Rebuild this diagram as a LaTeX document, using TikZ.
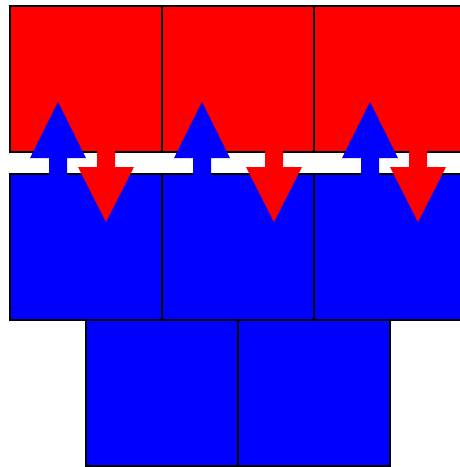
\documentclass[tikz,border=0pt]{standalone}
\begin{document}
\begin{tikzpicture}[x=1pt,y=-1pt,
  sq/.style={draw=black,line width=2pt,minimum width=152pt,minimum height=146pt,inner sep=0pt,outer sep=0pt,anchor=north west},
  redsq/.style={sq,fill=red},
  bluesq/.style={sq,fill=blue},
  uparrow/.style={fill=blue,draw=none},
  downarrow/.style={fill=red,draw=none}]
\useasboundingbox (0,0) rectangle (460,467);
\clip (0,0) rectangle (460,467);
% top red row
\node[redsq] (r1) at (10,6) {};
\node[redsq] (r2) at (162,6) {};
\node[redsq] (r3) at (314,6) {};
% middle blue row
\node[bluesq] (b1) at (10,174) {};
\node[bluesq] (b2) at (162,174) {};
\node[bluesq] (b3) at (314,174) {};
% bottom blue row
\node[bluesq] (c1) at (86,320) {};
\node[bluesq] (c2) at (238,320) {};
% arrows
\foreach \cx in {58,202,370}{
  \fill[uparrow] (\cx,102) -- (\cx+28,158) -- (\cx+9,158) -- (\cx+9,175) -- (\cx-9,175) -- (\cx-9,158) -- (\cx-28,158) -- cycle;
}
\foreach \cx in {106,274,418}{
  \fill[downarrow] (\cx-9,151) -- (\cx+9,151) -- (\cx+9,167) -- (\cx+28,167) -- (\cx,222) -- (\cx-28,167) -- (\cx-9,167) -- cycle;
}
\end{tikzpicture}
\end{document}
